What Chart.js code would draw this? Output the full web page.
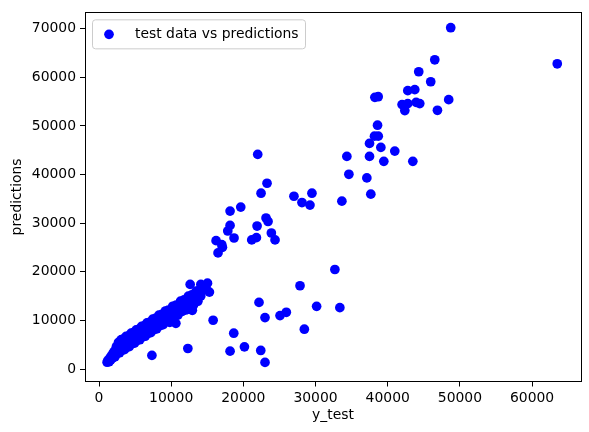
<!DOCTYPE html>
<html>
<head>
<meta charset="utf-8">
<script src="https://cdn.jsdelivr.net/npm/chart.js@4"></script>
<style>
  body { margin: 0; background: #fff; }
  #wrap { width: 589px; height: 432px; }
</style>
</head>
<body>
<div id="wrap"><canvas id="myScatter"></canvas></div>
<script>
const yTest = [
  1121, 1250, 1390, 1520, 1630, 1710, 1830, 1900, 1980, 2060, 2130, 2200, 2260, 2330, 2410, 2480,
  2550, 2640, 2700, 2780, 2850, 2920, 3000, 3080, 3150, 3230, 3300, 3380, 3460, 3530, 3600, 3680,
  3750, 3830, 3900, 3980, 4060, 4130, 4200, 4290, 4370, 4450, 4520, 4600, 4680, 4760, 4840, 4920,
  5000, 5080, 5160, 5240, 5320, 5400, 5480, 5560, 5650, 5730, 5810, 5900, 5980, 6060, 6150, 6230,
  6310, 6400, 6480, 6570, 6650, 6740, 6820, 6910, 7000, 7090, 7180, 7270, 7360, 7450, 7540, 7630,
  7720, 7810, 7900, 8000, 8100, 8200, 8300, 8400, 8500, 8600, 8700, 8800, 8900, 9000, 9100, 9200,
  9300, 9400, 9500, 9620, 9740, 9860, 9980, 10100, 10220, 10340, 10460, 10580, 10700, 10820, 10940,
  11060, 11180, 11300, 11420, 11540, 11660, 11780, 11900, 12020, 12140, 12260, 12380, 12500, 12620,
  12740, 12860, 12980, 13100, 13220, 13340, 13460, 13580, 13700, 13820, 13950, 14100, 14300, 14500,
  14700, 14900, 10650, 9800, 12930,
  48730, 63490, 46520, 44300, 45960, 42780, 43750, 38220, 38680, 48450, 41990, 42780, 43940, 44440,
  42370, 46890, 38590, 38170, 38690, 37480, 39050, 40980, 34340, 37480, 39460, 43480, 34620, 37110,
  37660, 33650, 29500, 29230, 28120, 21990, 23280, 22450, 27010, 18160, 19640, 23140, 23420, 18160,
  21900, 17840, 18710, 23880, 24390, 21160, 21810, 16220, 17010, 17100, 16490, 32680, 27850, 12630,
  14110, 15030, 15300, 22170, 30150, 33370, 25080, 25950, 23000, 28450, 15810, 18670, 20150, 18160,
  22410, 23000, 12310, 7330
];
const predictions = [
  1400, 1800, 1500, 2300, 1900, 2700, 2200, 3100, 2600, 3500, 2900, 2500, 3900, 3300, 4600, 3200,
  4500, 3700, 5490, 4170, 3340, 5200, 3880, 6060, 4920, 3900, 5370, 6150, 4820, 3990, 5860, 4530,
  6700, 5580, 4540, 6020, 6800, 5470, 4630, 6520, 5200, 7370, 6240, 5220, 6690, 7470, 6150, 5320,
  7200, 5880, 8050, 6930, 5910, 7380, 8160, 6840, 6020, 7900, 6580, 8760, 7640, 6620, 8100, 8880,
  7560, 6740, 8620, 7310, 9480, 8370, 7350, 8830, 9620, 8310, 7490, 9380, 8070, 10250, 9140, 8130,
  9610, 10400, 9080, 8280, 10180, 8870, 11070, 9960, 8960, 10460, 11250, 9950, 9140, 11040, 9740, 11930,
  10830, 9820, 11320, 12140, 10850, 10070, 11980, 10700, 12910, 11830, 10840, 12360, 13170, 11890, 11100,
  13020, 11730, 13950, 12860, 11880, 13390, 14210, 12920, 12140, 14050, 12770, 14990, 13900, 12920,
  14430, 15250, 13960, 13180, 15090, 13810, 16020, 14940, 13950, 15470, 16290, 15000, 16200, 16600,
  16900, 16300, 9400, 9600, 12080,
  70190, 62770, 63590, 61130, 59080, 57240, 57450, 55870, 56000, 55400, 54380, 54580, 54850, 54580,
  53150, 53210, 50140, 47890, 47890, 46400, 45580, 44820, 43730, 43730, 42710, 42710, 40050, 39300,
  35960, 34530, 36160, 33710, 34240, 44140, 38210, 36160, 35530, 32480, 33300, 31050, 30350, 29540,
  29410, 28390, 26950, 27980, 26550, 26550, 27020, 26400, 25580, 25030, 23880, 20470, 17130, 17400,
  17400, 17660, 15820, 13710, 12890, 12630, 10990, 11670, 10580, 8190, 10030, 7370, 4560, 3680,
  3820, 1370, 4230, 2800
];
const xTicks = [0, 10000, 20000, 30000, 40000, 50000, 60000];
const yTicks = [0, 10000, 20000, 30000, 40000, 50000, 60000, 70000];
const seriesLabel = 'test data vs predictions';

const fontFam = '"DejaVu Sans", sans-serif';
const fontPx = 13.9;
const dotR = 4.85;

// frame round the plot + matplotlib style legend in the upper left
const frameAndLegend = {
  id: 'frameAndLegend',
  afterDraw(chart) {
    const c = chart.ctx;
    const a = chart.chartArea;
    c.save();
    c.strokeStyle = '#000';
    c.lineWidth = 1;
    c.strokeRect(Math.round(a.left) + 0.5, Math.round(a.top) + 0.5,
      Math.round(a.right - a.left), Math.round(a.bottom - a.top));

    const bx = a.left + 7, by = a.top + 7, bw = 213, bh = 29;
    c.beginPath();
    c.roundRect(bx + 0.5, by + 0.5, bw, bh, 3);
    c.fillStyle = 'rgba(255,255,255,0.8)';
    c.fill();
    c.strokeStyle = '#cccccc';
    c.stroke();

    c.beginPath();
    c.arc(bx + 17, by + bh / 2 + 0.5, dotR, 0, Math.PI * 2);
    c.fillStyle = '#0000ff';
    c.fill();

    c.fillStyle = '#000';
    c.font = fontPx + 'px ' + fontFam;
    c.textBaseline = 'middle';
    c.textAlign = 'left';
    c.fillText(seriesLabel, bx + 43, by + bh / 2 + 0.5);
    c.restore();
  }
};

const ctx = document.getElementById('myScatter').getContext('2d');

const pts = yTest.map((v, i) => ({ x: v, y: predictions[i] }));

const myScatter = new Chart(ctx, {
  type: 'scatter',
  data: {
    datasets: [{
      label: seriesLabel,
      data: pts,
      backgroundColor: '#0000ff',
      borderWidth: 0,
      pointRadius: dotR,
      pointHoverRadius: dotR
    }]
  },
  options: {
    responsive: true,
    maintainAspectRatio: false,
    animation: false,
    layout: { padding: { top: 10.6, right: 8, left: 0, bottom: 0 } },
    plugins: {
      legend: { display: false },
      tooltip: { enabled: false }
    },
    scales: {
      x: {
        type: 'linear',
        min: -1940,
        max: 66780,
        afterBuildTicks: (s) => { s.ticks = xTicks.map(v => ({ value: v })); },
        afterFit: (s) => { s.height = 50.5; },
        grid: { drawOnChartArea: false, drawTicks: true, tickLength: 5, tickColor: '#000' },
        border: { display: true, color: '#000' },
        ticks: {
          color: '#000', padding: 4, maxRotation: 0,
          font: { family: fontFam, size: fontPx },
          callback: (v) => String(v)
        },
        title: {
          display: true, text: 'y_test', color: '#000',
          font: { family: fontFam, size: fontPx },
          padding: { top: 0, bottom: 8 }
        }
      },
      y: {
        type: 'linear',
        min: -2560,
        max: 73350,
        afterBuildTicks: (s) => { s.ticks = yTicks.map(v => ({ value: v })); },
        afterFit: (s) => { s.width = 85; },
        grid: { drawOnChartArea: false, drawTicks: true, tickLength: 5, tickColor: '#000' },
        border: { display: true, color: '#000' },
        ticks: {
          color: '#000', padding: 4,
          font: { family: fontFam, size: fontPx },
          callback: (v) => String(v)
        },
        title: {
          display: true, text: 'predictions', color: '#000',
          font: { family: fontFam, size: fontPx },
          padding: { top: 9, bottom: 0 }
        }
      }
    }
  },
  plugins: [frameAndLegend]
});
</script>
</body>
</html>
